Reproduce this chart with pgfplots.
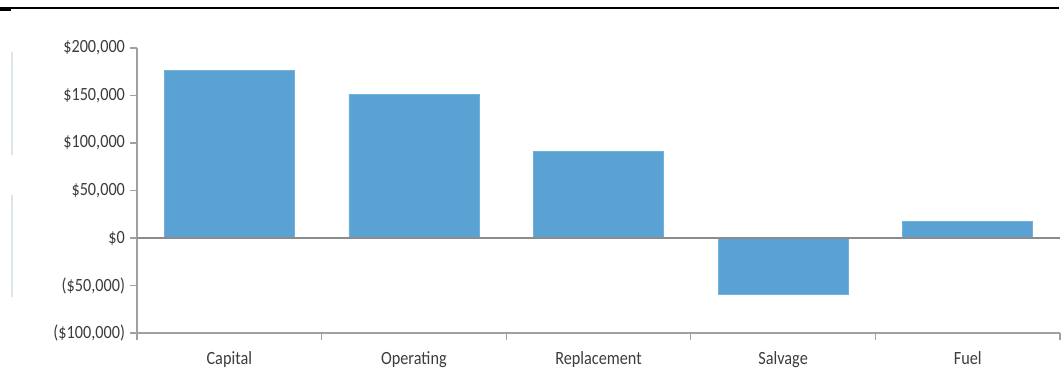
\documentclass[border=0pt]{standalone}
\usepackage{pgfplots}
\pgfplotsset{compat=1.18}
\usepackage{fontspec}
\setmainfont[FakeStretch=0.87]{Carlito}
\definecolor{barblue}{HTML}{5AA2D4}
\definecolor{axgray}{HTML}{A0A0A0}
\definecolor{zerogray}{HTML}{8C8C8C}
\definecolor{txt}{HTML}{3C3C3C}
\definecolor{sideline}{HTML}{DCE4EC}
\begin{document}
\begin{tikzpicture}
\useasboundingbox (0pt,0pt) rectangle (796.5pt,294pt);
\draw[black, line width=0.9pt] (0pt,288pt) -- (794.25pt,288pt);
\fill[black] (0pt,286.1pt) rectangle (8.25pt,288pt);
\draw[sideline, line width=1pt] (9pt,255pt) -- (9pt,177.75pt);
\draw[sideline, line width=1pt] (9pt,147.75pt) -- (9pt,71.25pt);
\begin{axis}[
  at={(102.75pt,44.25pt)}, anchor=south west,
  scale only axis,
  width=692.25pt, height=213.75pt,
  xmin=-0.5, xmax=4.5,
  ymin=-100000, ymax=200000,
  scaled y ticks=false,
  axis lines*=left,
  axis line style={axgray, line width=0.9pt},
  tick style={axgray, line width=0.9pt},
  tick align=outside,
  major tick length=5pt,
  xtick={-0.5,0.5,1.5,2.5,3.5,4.5},
  xticklabels={},
  extra x ticks={0,1,2,3,4},
  extra x tick labels={Capital,Operating,Replacement,Salvage,Fuel},
  extra x tick style={major tick length=0pt, tick label style={yshift=-10.5pt}},
  ytick={-100000,-50000,0,50000,100000,150000,200000},
  yticklabels={{(\$100,000)},{(\$50,000)},{\$0},{\$50,000},{\$100,000},{\$150,000},{\$200,000}},
  tick label style={font=\fontsize{14}{16}\selectfont, text=txt},
  yticklabel style={xshift=-0.5pt},
  clip=false,
]
\addplot[ybar, bar width=97.5pt, fill=barblue, draw=barblue!85!white, line width=0.5pt]
  coordinates {(0,176800) (1,151500) (2,91200) (3,-59700) (4,17200)};
\addplot[zerogray, line width=0.9pt, no marks] coordinates {(-0.5,0) (4.5,0)};
\end{axis}
\end{tikzpicture}
\end{document}
